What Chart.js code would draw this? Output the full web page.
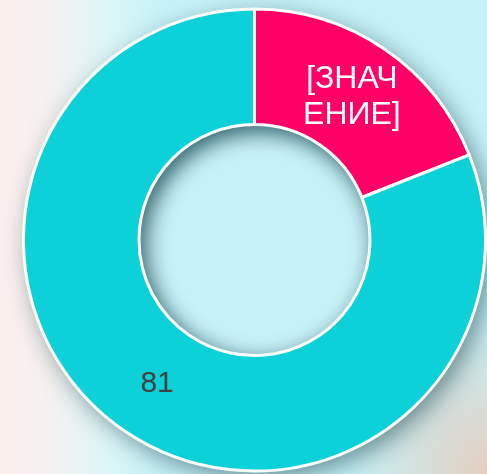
<!DOCTYPE html>
<html>
<head>
<meta charset="utf-8">
<script src="https://cdn.jsdelivr.net/npm/chart.js@4"></script>
<style>
  html, body { margin: 0; padding: 0; }
  body {
    width: 487px; height: 474px; overflow: hidden;
    background:
      radial-gradient(ellipse 140px 160px at 487px 474px, rgba(230,205,190,0.95), rgba(230,205,190,0) 100%),
      linear-gradient(to right, #fdeeee 0px, #f5f1f0 50px, #dcf6f8 110px, rgba(200,242,248,0) 160px),
      #c6f2f8;
  }
  #wrap { position: relative; width: 487px; height: 474px; }
</style>
</head>
<body>
<div id="wrap"><canvas id="chart"></canvas></div>
<script>
// slice data
const labels = ['Ряд 1', 'Ряд 2'];
const values = [19, 81];
const valueLabels = [['[ЗНАЧ', 'ЕНИЕ]'], ['81']];
const colors = ['#ff0066', '#0dd1d9'];
const labelColors = ['#ffffff', '#404040'];
const labelSizes = [32, 30];

// soft shadow under the ring and inside the hole
const ringShadow = {
  id: 'ringShadow',
  beforeDatasetsDraw(chart) {
    const arc = chart.getDatasetMeta(0).data[0];
    if (!arc) return;
    const ctx = chart.ctx;
    ctx.save();
    ctx.shadowColor = 'rgba(0,40,50,0.5)';
    ctx.shadowBlur = 24;
    ctx.shadowOffsetX = 6;
    ctx.shadowOffsetY = 7;
    ctx.beginPath();
    ctx.arc(arc.x, arc.y, arc.outerRadius, 0, Math.PI * 2);
    ctx.arc(arc.x, arc.y, arc.innerRadius, 0, Math.PI * 2, true);
    ctx.fillStyle = '#ffffff';
    ctx.fill();
    ctx.restore();
    // inner shadow in the hole
    ctx.save();
    ctx.beginPath();
    ctx.arc(arc.x, arc.y, arc.innerRadius, 0, Math.PI * 2);
    ctx.clip();
    ctx.shadowColor = 'rgba(0,60,70,0.45)';
    ctx.shadowBlur = 18;
    ctx.shadowOffsetX = 5;
    ctx.shadowOffsetY = 6;
    ctx.beginPath();
    ctx.arc(arc.x, arc.y, arc.innerRadius + 60, 0, Math.PI * 2);
    ctx.arc(arc.x, arc.y, arc.innerRadius, 0, Math.PI * 2, true);
    ctx.fillStyle = '#ffffff';
    ctx.fill();
    ctx.restore();
  }
};

// value labels in the middle of each slice
const sliceLabels = {
  id: 'sliceLabels',
  afterDatasetsDraw(chart) {
    const ctx = chart.ctx;
    chart.getDatasetMeta(0).data.forEach((arc, i) => {
      const p = arc.tooltipPosition();
      const lines = valueLabels[i];
      ctx.save();
      ctx.font = labelSizes[i] + 'px "Liberation Sans", Arial, sans-serif';
      ctx.fillStyle = labelColors[i];
      ctx.textAlign = 'center';
      ctx.textBaseline = 'middle';
      const lh = 36;
      lines.forEach((t, j) => {
        ctx.fillText(t, p.x, p.y + (j - (lines.length - 1) / 2) * lh);
      });
      ctx.restore();
    });
  }
};

new Chart(document.getElementById('chart'), {
  type: 'doughnut',
  data: {
    labels: labels,
    datasets: [{
      data: values,
      backgroundColor: colors,
      borderColor: '#ffffff',
      borderWidth: 3,
    }]
  },
  options: {
    responsive: true,
    maintainAspectRatio: false,
    animation: false,
    cutout: '50%',
    layout: { padding: { left: 22, top: 6, right: 0, bottom: 0 } },
    plugins: {
      legend: { display: false },
      tooltip: { enabled: false },
    },
  },
  plugins: [ringShadow, sliceLabels],
});
</script>
</body>
</html>
